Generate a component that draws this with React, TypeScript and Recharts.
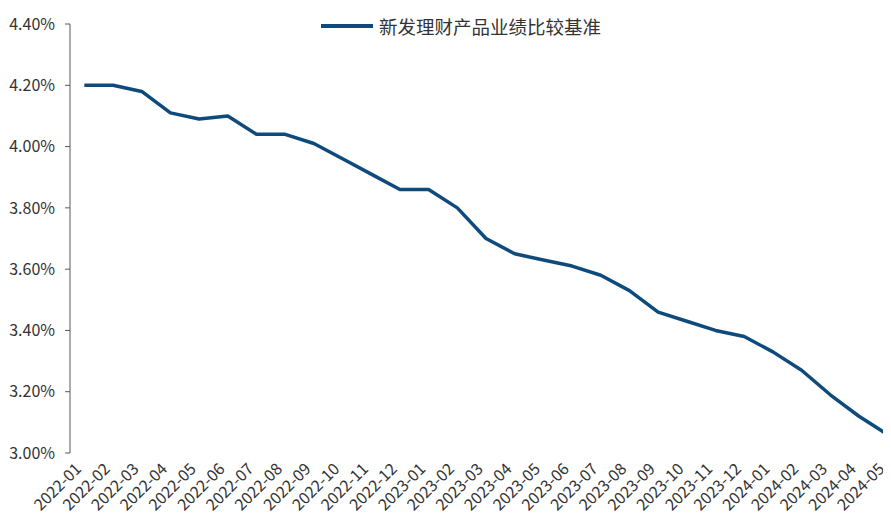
import { LineChart, Line, XAxis, YAxis } from "recharts";

const months = [
  "2022-01", "2022-02", "2022-03", "2022-04", "2022-05", "2022-06",
  "2022-07", "2022-08", "2022-09", "2022-10", "2022-11", "2022-12",
  "2023-01", "2023-02", "2023-03", "2023-04", "2023-05", "2023-06",
  "2023-07", "2023-08", "2023-09", "2023-10", "2023-11", "2023-12",
  "2024-01", "2024-02", "2024-03", "2024-04", "2024-05",
];

// 新发理财产品业绩比较基准 (%)
const benchmark = [
  4.2, 4.2, 4.18, 4.11, 4.09, 4.1, 4.04, 4.04, 4.01, 3.96, 3.91, 3.86,
  3.86, 3.8, 3.7, 3.65, 3.63, 3.61, 3.58, 3.53, 3.46, 3.43, 3.4, 3.38,
  3.33, 3.27, 3.19, 3.12, 3.06,
];

const yTicks = [3.0, 3.2, 3.4, 3.6, 3.8, 4.0, 4.2, 4.4];
const seriesName = "新发理财产品业绩比较基准";

const data = months.map((m, i) => ({ i, month: m, value: benchmark[i] }));
const centerTicks = months.map((_, i) => i);
const edgeTicks = [...months.map((_, i) => i - 0.5), months.length - 0.5];

const FONT = "'Noto Sans CJK SC', 'Liberation Sans', sans-serif";
const LINE_COLOR = "#0E4A7C";
const AXIS_COLOR = "#595959";

function MonthTick({ x, y, payload }: any) {
  const label = months[payload.value] ?? "";
  const ax = x - 2;
  const ay = y + 15;
  return (
    <text
      x={ax}
      y={ay}
      textAnchor="end"
      transform={`rotate(-45, ${ax}, ${ay})`}
      fontSize={16}
      fill="#333"
      fontFamily={FONT}
    >
      {label}
    </text>
  );
}

export default function App() {
  return (
    <div
      style={{
        position: "relative",
        margin: -8,
        width: 891,
        height: 522,
        overflow: "hidden",
        background: "#fff",
      }}
    >
      <div
        style={{
          position: "absolute",
          left: 321,
          top: 13,
          display: "flex",
          alignItems: "center",
          fontFamily: FONT,
          fontSize: 18.5,
          color: "#333",
          zIndex: 2,
        }}
      >
        <span
          style={{
            display: "inline-block",
            width: 52,
            height: 4,
            background: LINE_COLOR,
            marginRight: 6,
          }}
        />
        {seriesName}
      </div>
      <LineChart
        width={920}
        height={522}
        data={data}
        margin={{ top: 24, right: 18, bottom: 0, left: 0 }}
      >
        <XAxis
          xAxisId="edge"
          type="number"
          dataKey="i"
          domain={[-0.5, months.length - 0.5]}
          ticks={edgeTicks}
          tickFormatter={() => ""}
          stroke={AXIS_COLOR}
          tickSize={5}
          height={6}
          allowDataOverflow
        />
        <XAxis
          xAxisId="cat"
          type="number"
          dataKey="i"
          domain={[-0.5, months.length - 0.5]}
          ticks={centerTicks}
          interval={0}
          axisLine={false}
          tickLine={false}
          tickSize={0}
          height={63}
          tick={<MonthTick />}
          allowDataOverflow
        />
        <YAxis
          type="number"
          domain={[3.0, 4.4]}
          ticks={yTicks}
          interval={0}
          width={70}
          stroke={AXIS_COLOR}
          tickSize={5}
          tickMargin={10}
          tick={{ fill: "#333", fontSize: 16, fontFamily: FONT }}
          tickFormatter={(v: number) => `${v.toFixed(2)}%`}
        />
        <Line
          xAxisId="cat"
          type="linear"
          dataKey="value"
          name={seriesName}
          stroke={LINE_COLOR}
          strokeWidth={3.5}
          strokeLinejoin="round"
          dot={false}
          isAnimationActive={false}
        />
      </LineChart>
    </div>
  );
}
